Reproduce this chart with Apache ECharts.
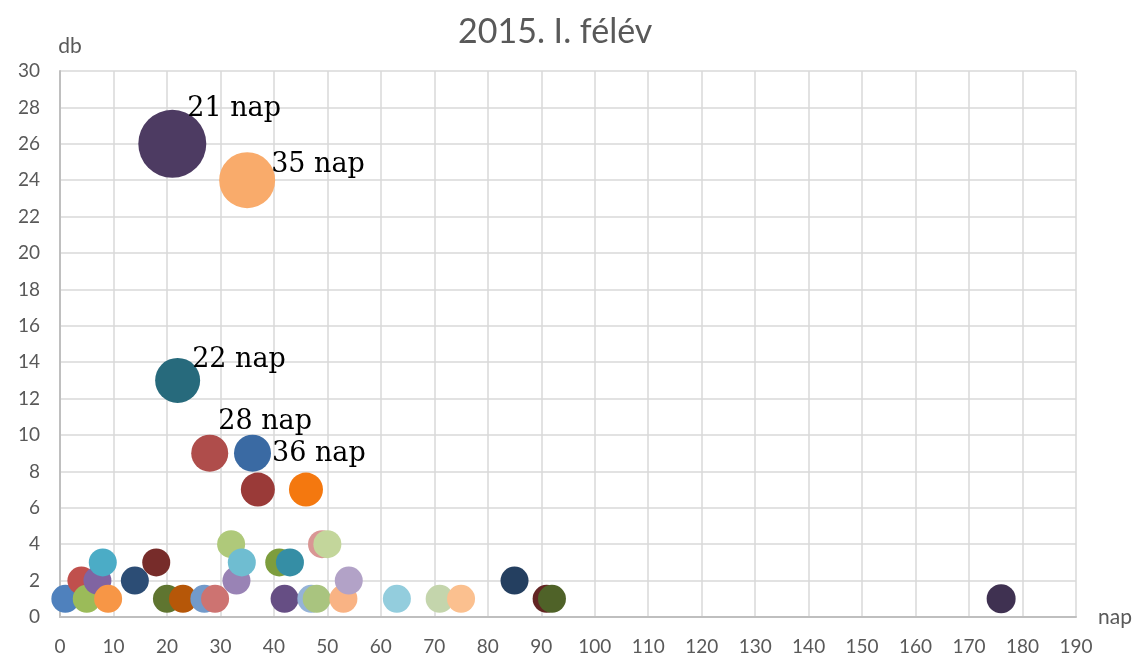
<!DOCTYPE html>
<html>
<head>
<meta charset="utf-8">
<script src="https://cdn.jsdelivr.net/npm/echarts@6/dist/echarts.min.js"></script>
<style>
  html, body { margin: 0; padding: 0; background: #fff; }
  #main { width: 1144px; height: 663px; }
</style>
</head>
<body>
<div id="main"></div>
<script>
// nap (x), db (y), buborék méret, szín, felirat
var napVals = [1, 4, 5, 7, 8, 9, 14, 18, 20, 21, 22, 23, 27, 28, 29, 32, 33, 34, 35, 36,
               37, 41, 42, 43, 46, 47, 48, 49, 50, 53, 54, 63, 71, 75, 85, 91, 92, 176];
var dbVals = [1, 2, 1, 2, 3, 1, 2, 3, 1, 26, 13, 1, 1, 9, 1, 4, 2, 3, 24, 9,
              7, 3, 1, 3, 7, 1, 1, 4, 4, 1, 2, 1, 1, 1, 2, 1, 1, 1];
var sizeVals = [28, 28, 28, 28, 28, 28, 28, 28, 28, 68, 45, 28, 28, 37, 28, 28, 28, 28, 56, 37,
                34, 28, 28, 28, 34, 28, 28, 28, 28, 28, 28, 28, 28, 28, 28, 28, 28, 29];
var colors = ['#4F81BD', '#C0504D', '#9BBB59', '#8064A2', '#4BACC6', '#F79646', '#2C4D75', '#772C2A',
              '#5F7530', '#4D3B62', '#276A7C', '#B65708', '#729ACA', '#AF4D4B', '#CD7371', '#AFC97A',
              '#9983B5', '#6FBDD1', '#F9AB6B', '#3A6AA3', '#9A3A38', '#7D9D3D', '#664E84', '#358EA5',
              '#F4780F', '#95B3D7', '#A9C47F', '#D99694', '#C3D69B', '#F9B384', '#B2A2C7', '#93CDDD',
              '#C4D5AC', '#FBC08F', '#243F60', '#632523', '#4F6228', '#3F3151'];
var labelTexts = {21: '21 nap', 22: '22 nap', 28: '28 nap', 35: '35 nap', 36: '36 nap'};
var xTicks = [0, 190, 10];
var yTicks = [0, 30, 2];

// címke eltolások (csak a megjelenéshez)
var labelOffsets = {21: [-24, -35], 22: [-13, -20], 28: [-15, -31], 35: [-9, -15], 36: [-4, 1]};

var data = [];
for (var i = 0; i < napVals.length; i++) {
    var item = {
        value: [napVals[i], dbVals[i], sizeVals[i]],
        itemStyle: { color: colors[i] }
    };
    var key = napVals[i];
    if (labelTexts[key] && dbVals[i] > 7) {
        item.label = {
            show: true,
            formatter: labelTexts[key],
            position: 'right',
            offset: labelOffsets[key]
        };
    }
    data.push(item);
}

var myChart = echarts.init(document.getElementById('main'));
var option = {
    animation: false,
    title: {
        text: '2015. I. félév',
        left: 453,
        top: 10,
        textStyle: {
            fontFamily: 'Lato',
            fontWeight: 'normal',
            fontSize: 34,
            color: '#595959'
        }
    },
    grid: {
        left: 60,
        right: 68,
        top: 71,
        bottom: 46
    },
    xAxis: {
        type: 'value',
        min: xTicks[0],
        max: xTicks[1],
        interval: xTicks[2],
        name: 'nap',
        nameLocation: 'end',
        nameGap: 22,
        nameTextStyle: { fontFamily: 'Lato', fontSize: 21, color: '#595959', verticalAlign: 'middle', padding: [10, 0, 0, 0] },
        axisLine: { lineStyle: { color: '#BFBFBF', width: 2 } },
        axisTick: { show: false },
        axisLabel: { fontFamily: 'Lato', fontSize: 19, color: '#595959', margin: 20 },
        splitLine: { show: true, lineStyle: { color: '#D9D9D9', width: 1.5 } }
    },
    yAxis: {
        type: 'value',
        min: yTicks[0],
        max: yTicks[1],
        interval: yTicks[2],
        name: 'db',
        nameLocation: 'end',
        nameGap: 14,
        nameTextStyle: { fontFamily: 'Lato', fontSize: 21, color: '#595959', padding: [0, 0, 0, 20] },
        axisLine: { show: true, lineStyle: { color: '#BFBFBF', width: 2 } },
        axisTick: { show: false },
        axisLabel: { fontFamily: 'Lato', fontSize: 19, color: '#595959', margin: 20 },
        splitLine: { show: true, lineStyle: { color: '#D9D9D9', width: 1.5 } }
    },
    series: [{
        type: 'scatter',
        data: data,
        symbolSize: function (v) { return v[2]; },
        itemStyle: { opacity: 1 },
        label: {
            fontFamily: 'DejaVu Serif',
            fontSize: 27,
            color: '#000'
        }
    }]
};
myChart.setOption(option);
</script>
</body>
</html>
